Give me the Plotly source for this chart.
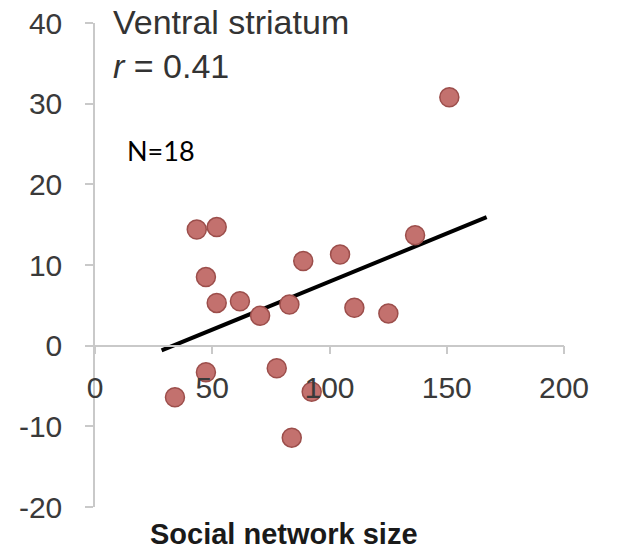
import numpy as np
import plotly.graph_objects as go

# Social network size vs. ventral striatum response (one point per participant)
network_size = [43.4, 51.9, 47.3, 51.9, 61.8, 70.4, 82.9, 88.8, 104.5,
                110.6, 125.1, 136.5, 47.3, 34.1, 77.5, 92.4, 83.9, 151.1]
striatum_resp = [14.4, 14.7, 8.5, 5.3, 5.5, 3.7, 5.1, 10.5, 11.3,
                 4.7, 4.0, 13.7, -3.3, -6.4, -2.8, -5.7, -11.4, 30.8]

# extent of the fitted line along the x axis
fit_extent = [28.4, 167.0]

x_ticks = [0, 50, 100, 150, 200]
y_ticks = [-20, -10, 0, 10, 20, 30, 40]
y_tick_text = ["-20", "-10", "0", "10", "20", "30", "40"]

slope, intercept = np.polyfit(network_size, striatum_resp, 1)
fit_x = np.array(fit_extent)
fit_y = slope * fit_x + intercept

axis_grey = "#c9c9c9"
label_grey = "#3a3a3a"

fig = go.Figure()
fig.add_trace(go.Scatter(
    x=fit_x, y=fit_y, mode="lines",
    line=dict(color="black", width=4),
    hoverinfo="skip", showlegend=False,
))
fig.add_trace(go.Scatter(
    x=network_size, y=striatum_resp, mode="markers",
    marker=dict(size=19, color="#c3716e", line=dict(color="#9c4e4b", width=1.5)),
    showlegend=False,
))

fig.update_layout(
    width=621, height=552,
    margin=dict(l=95, r=57, t=23, b=45, autoexpand=False),
    plot_bgcolor="white", paper_bgcolor="white",
    font=dict(family="Liberation Sans, Arial, sans-serif", color=label_grey),
    xaxis=dict(
        range=[0, 200], tickvals=x_ticks, domain=[0, 1], automargin=False,
        anchor="free", position=1 / 3,
        showline=True, linecolor=axis_grey, linewidth=1.5,
        ticks="outside", ticklen=8, tickcolor=axis_grey, tickwidth=1.5,
        tickfont=dict(size=30, color=label_grey),
        ticklabelstandoff=8,
        showgrid=False, zeroline=False,
    ),
    yaxis=dict(
        range=[-20, 40], tickvals=y_ticks, ticktext=y_tick_text, domain=[0, 1],
        automargin=False,
        showline=True, linecolor=axis_grey, linewidth=1.5,
        ticks="outside", ticklen=8, tickcolor=axis_grey, tickwidth=1.5,
        tickfont=dict(size=30, color=label_grey),
        ticklabelstandoff=17,
        showgrid=False, zeroline=False,
    ),
    annotations=[
        dict(text="Ventral striatum<br><i>r</i> = 0.41",
             xref="paper", yref="paper", x=0.034, y=1.045,
             xanchor="left", yanchor="top", align="left", showarrow=False,
             font=dict(size=34, color="#333333")),
        dict(text="N=18", xref="paper", yref="paper", x=0.141, y=0.736,
             xanchor="center", yanchor="middle", showarrow=False,
             font=dict(family="Lato, sans-serif", size=27, color="black")),
        dict(text="<b>Social network size</b>", xref="paper", yref="paper",
             x=0.402, y=-0.056, xanchor="center", yanchor="middle",
             showarrow=False, font=dict(size=29, color="#1a1a1a")),
    ],
)

fig.write_html("out.html")
